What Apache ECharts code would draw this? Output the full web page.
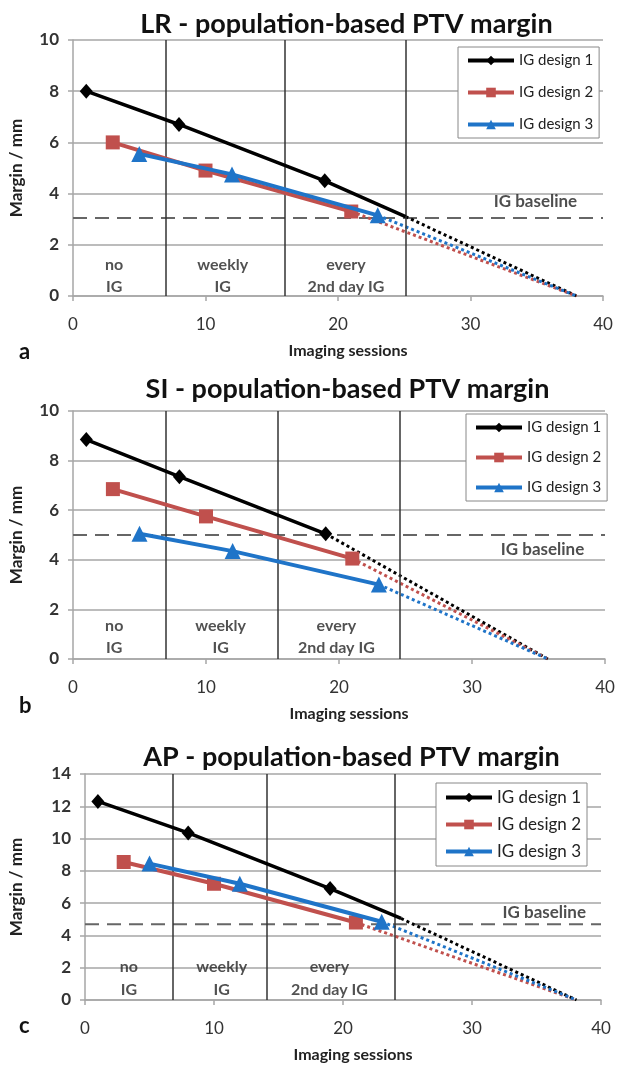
<!DOCTYPE html>
<html>
<head>
<meta charset="utf-8">
<script src="https://cdn.jsdelivr.net/npm/echarts@6/dist/echarts.min.js"></script>
<style>
html,body{margin:0;padding:0;background:#fff;}
#chart{width:631px;height:1066px;}
</style>
</head>
<body>
<div id="chart"></div>
<script>
// ---------- data ----------
const xTicks = [0, 10, 20, 30, 40];
const seriesNames = ['IG design 1', 'IG design 2', 'IG design 3'];
const regionTexts = ['no\nIG', 'weekly\nIG', 'every\n2nd day IG'];

// Panel a: LR
const lrTitle = 'LR - population-based PTV margin';
const lrD1 = [[1, 8.0], [8, 6.7], [19, 4.5]];
const lrD1End = [25.1, 3.1];
const lrD2 = [[3, 6.0], [10, 4.9], [21, 3.3]];
const lrD3 = [[5, 5.55], [12, 4.75], [23, 3.15]];
const lrZero = 38;
const lrBaseline = 3.05;
const lrBounds = [7, 16, 25.1];
const lrYTicks = [0, 2, 4, 6, 8, 10];

// Panel b: SI
const siTitle = 'SI - population-based PTV margin';
const siD1 = [[1, 8.85], [8, 7.35], [19, 5.05]];
const siD1End = null;
const siD2 = [[3, 6.85], [10, 5.75], [21, 4.05]];
const siD3 = [[5, 5.05], [12, 4.35], [23, 3.0]];
const siZero = 35.7;
const siBaseline = 5.0;
const siBounds = [7, 15.4, 24.6];
const siYTicks = [0, 2, 4, 6, 8, 10];

// Panel c: AP
const apTitle = 'AP - population-based PTV margin';
const apD1 = [[1, 12.3], [8, 10.35], [19, 6.9]];
const apD1End = [24.5, 5.05];
const apD2 = [[3, 8.55], [10, 7.2], [21, 4.8]];
const apD3 = [[5, 8.45], [12, 7.2], [23, 4.85]];
const apZero = 38.1;
const apBaseline = 4.7;
const apBounds = [6.8, 14.1, 24.0];
const apYTicks = [0, 2, 4, 6, 8, 10, 12, 14];

// ---------- layout (label anchors in data units, boxes in px) ----------
const panels = [
  { letter: 'a', title: lrTitle, d1: lrD1, d1End: lrD1End, d2: lrD2, d3: lrD3, zero: lrZero,
    baseline: lrBaseline, bounds: lrBounds, yTicks: lrYTicks,
    regionX: [3.1, 11.3, 20.6], regionY: 0.8, baseLabel: [34.9, 3.7],
    grid: { left: 72, top: 40, width: 531, height: 256 }, titleTop: 6, letterTop: 336,
    legend: { left: 458, top: 47, font: 15, gap: 17 }, nameGapY: 48, regionLH: 22 },
  { letter: 'b', title: siTitle, d1: siD1, d1End: siD1End, d2: siD2, d3: siD3, zero: siZero,
    baseline: siBaseline, bounds: siBounds, yTicks: siYTicks,
    regionX: [3.1, 11.1, 19.8], regionY: 0.88, baseLabel: [35.3, 4.4],
    grid: { left: 72, top: 411, width: 533, height: 248 }, titleTop: 371, letterTop: 690,
    legend: { left: 466, top: 414, font: 15, gap: 15 }, nameGapY: 48, regionLH: 22 },
  { letter: 'c', title: apTitle, d1: apD1, d1End: apD1End, d2: apD2, d3: apD3, zero: apZero,
    baseline: apBaseline, bounds: apBounds, yTicks: apYTicks,
    regionX: [3.4, 10.6, 18.95], regionY: 1.35, baseLabel: [35.6, 5.4],
    grid: { left: 84, top: 774, width: 517, height: 226 }, titleTop: 739, letterTop: 1010,
    legend: { left: 436, top: 783, font: 17, gap: 10 }, nameGapY: 60, regionLH: 23 }
];

const colors = ['#000000', '#c0504d', '#1f74c8'];
const symbols = ['diamond', 'rect', 'triangle'];
const symSizes = [[13, 15], 14, 16];
const FONT = 'Lato, "Open Sans", sans-serif';

const option = {
  animation: false,
  backgroundColor: '#fff',
  title: [], grid: [], xAxis: [], yAxis: [], legend: [], series: []
};

panels.forEach((p, i) => {
  option.title.push({
    text: p.title, left: p.grid.left + p.grid.width / 2 + 4, top: p.titleTop, textAlign: 'center',
    textStyle: { fontFamily: FONT, fontWeight: 'bold', fontSize: 27, color: '#111' }
  });
  option.title.push({
    text: p.letter, left: 14, top: p.letterTop,
    textStyle: { fontFamily: FONT, fontWeight: 'bold', fontSize: 22, color: '#111' }
  });
  option.grid.push(Object.assign({ containLabel: false }, p.grid));
  option.xAxis.push({
    type: 'value', gridIndex: i, min: xTicks[0], max: xTicks[xTicks.length - 1], interval: 10,
    name: 'Imaging sessions', nameLocation: 'middle', nameGap: 47,
    nameTextStyle: { fontFamily: FONT, fontWeight: 'bold', fontSize: 16, color: '#222', padding: [0, 0, 0, 20] },
    axisLine: { show: true, lineStyle: { color: '#a6a6a6', width: 1.5 } },
    axisTick: { show: true, length: 5, lineStyle: { color: '#a6a6a6', width: 1.5 } },
    axisLabel: { fontFamily: FONT, fontSize: 17, color: '#333', margin: 20 },
    splitLine: { show: false }
  });
  option.yAxis.push({
    type: 'value', gridIndex: i, min: 0, max: p.yTicks[p.yTicks.length - 1], interval: 2,
    name: 'Margin / mm', nameLocation: 'middle', nameGap: p.nameGapY, nameRotate: 90,
    nameTextStyle: { fontFamily: FONT, fontWeight: 'bold', fontSize: 17, color: '#222' },
    axisLine: { show: true, lineStyle: { color: '#a6a6a6', width: 1.5 } },
    axisTick: { show: true, length: 5, lineStyle: { color: '#a6a6a6', width: 1.5 } },
    axisLabel: { fontFamily: FONT, fontSize: 17, color: '#333', margin: 14, fontWeight: 'bold' },
    splitLine: { show: true, lineStyle: { color: '#a6a6a6', width: 1.5 } }
  });
  option.legend.push({
    data: seriesNames, orient: 'vertical', left: p.legend.left, top: p.legend.top,
    itemWidth: 46, itemHeight: 12, itemGap: p.legend.gap,
    padding: [6, 6, 6, 8], borderColor: '#888', borderWidth: 1, backgroundColor: '#fff',
    lineStyle: { width: 4 },
    textStyle: { fontFamily: FONT, fontSize: p.legend.font, color: '#222' },
    selectedMode: false, z: 20
  });

  const ax = { xAxisIndex: i, yAxisIndex: i };
  // region boundaries + baseline
  option.series.push(Object.assign({
    type: 'line', name: 'baseline' + i, data: [[xTicks[0], p.baseline], [xTicks[xTicks.length - 1], p.baseline]],
    symbol: 'none', silent: true, z: 2,
    lineStyle: { color: '#666', width: 2, type: [14, 8] },
    markLine: {
      silent: true, symbol: ['none', 'none'], label: { show: false },
      lineStyle: { color: '#333', width: 1.5, type: 'solid' },
      data: p.bounds.map(b => ({ xAxis: b }))
    }
  }, ax));

  const sets = [p.d1, p.d2, p.d3];
  sets.forEach((d, k) => {
    const last = (k === 0 && p.d1End) ? p.d1End : d[d.length - 1];
    // dotted extension to zero
    option.series.push(Object.assign({
      type: 'line', name: 'ext' + i + k, data: [last, [p.zero, 0]], symbol: 'none', silent: true, z: 3,
      lineStyle: { color: colors[k], width: 3, type: 'dotted' }
    }, ax));
    const solid = d.slice();
    if (k === 0 && p.d1End) solid.push({ value: p.d1End, symbol: 'none' });
    option.series.push(Object.assign({
      type: 'line', name: seriesNames[k], data: solid, z: 5 + k,
      symbol: symbols[k], symbolSize: symSizes[k], showSymbol: true,
      itemStyle: { color: colors[k], borderWidth: 0 },
      lineStyle: { color: colors[k], width: k === 0 ? 3.5 : 4 }
    }, ax));
  });

  // text annotations
  option.series.push(Object.assign({
    type: 'scatter', name: 'notes' + i, symbolSize: 0, silent: true, z: 10,
    data: p.regionX.map((x, j) => ({ value: [x, p.regionY], name: regionTexts[j] })),
    label: { show: true, position: 'inside', formatter: q => q.name,
      fontFamily: FONT, fontSize: 16, fontWeight: 'bold', color: '#262626', lineHeight: p.regionLH, align: 'center' }
  }, ax));
  option.series.push(Object.assign({
    type: 'scatter', name: 'blabel' + i, symbolSize: 0, silent: true, z: 10,
    data: [{ value: p.baseLabel, name: 'IG baseline' }],
    label: { show: true, position: 'inside', formatter: q => q.name,
      fontFamily: FONT, fontSize: 17, fontWeight: 'bold', color: '#222' }
  }, ax));
});

const chart = echarts.init(document.getElementById('chart'), null, { renderer: 'canvas' });
chart.setOption(option);
</script>
</body>
</html>
